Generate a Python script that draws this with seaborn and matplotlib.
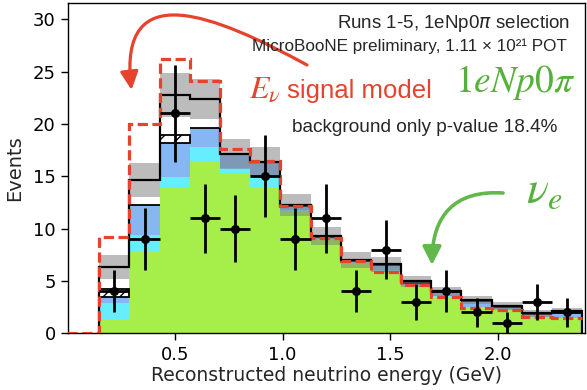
import numpy as np
import pandas as pd
import matplotlib
matplotlib.use("Agg")
import matplotlib.pyplot as plt
import seaborn as sns
from matplotlib.patches import FancyArrowPatch
from matplotlib.path import Path

# ---------------- data ----------------
bin_edges = [0.15, 0.29, 0.43, 0.57, 0.71, 0.85, 0.99, 1.13, 1.27, 1.41,
             1.55, 1.69, 1.83, 1.97, 2.11, 2.25, 2.39]
nue_signal = [1.34, 7.8, 14.0, 16.45, 15.2, 14.0, 11.6, 8.9, 6.7, 5.9,
              4.5, 3.5, 2.4, 2.2, 1.6, 1.45]
bkg_cyan = [1.53, 1.59, 0.96, 1.35, 0.55, 0.96, 0.2, 0.1, 0.1, 0.1,
            0.1, 0.1, 0.1, 0.1, 0.05, 0.05]
bkg_blue = [0.63, 2.86, 3.24, 1.8, 1.35, 1.44, 0.4, 0.2, 0.15, 0.5,
            0.25, 0.3, 0.6, 0.2, 0.2, 0.55]
bkg_hatched = [0.7, 0.0, 0.74, 0.0, 0.0, 0.0, 0.0, 0.0, 0.0, 0.0,
               0.0, 0.0, 0.0, 0.0, 0.0, 0.0]
total_pred = [6.36, 14.64, 22.76, 22.35, 17.1, 16.4, 12.25, 9.29, 7.0, 6.6,
              4.95, 4.0, 3.2, 2.6, 1.9, 2.15]
pred_unc = [1.16, 1.6, 2.1, 1.9, 1.45, 1.4, 1.05, 0.9, 0.75, 0.7,
            0.5, 0.45, 0.4, 0.35, 0.3, 0.3]
signal_model_edges = [0.0] + bin_edges
signal_model = [0.0, 9.2, 20.0, 26.2, 24.1, 17.6, 16.45, 12.15, 9.15, 6.9, 5.9,
                4.6, 3.5, 2.4, 2.2, 1.6, 1.45]
data_counts = [4, 9, 21, 11, 10, 15, 9, 11, 4, 8, 3, 4, 2, 1, 3, 2]
data_err = [2.0, 3.0, 4.6, 3.3, 3.2, 3.9, 3.0, 3.3, 2.0, 2.8,
            1.7, 2.0, 1.4, 1.0, 1.7, 1.4]

x_ticks = [0.5, 1.0, 1.5, 2.0]
y_ticks = [0, 5, 10, 15, 20, 25, 30]

# ---------------- style ----------------
sns.set_style("ticks")
plt.rcParams['font.family'] = ['DejaVu Sans']
plt.rcParams['axes.edgecolor'] = 'black'
plt.rcParams['xtick.color'] = 'black'
plt.rcParams['ytick.color'] = 'black'
plt.rcParams['hatch.linewidth'] = 1.0

RED = '#e5432d'
GREEN_TXT = '#55b13a'
GREEN_ARROW = '#62b84a'
LIME = '#a6ef4a'
CYAN = '#66eeff'
BLUE = '#86b7f2'

W, H = 587, 390
fig = plt.figure(figsize=(W / 100, H / 100), dpi=100)
ax = fig.add_axes([68 / W, (H - 333.3) / H, (585 - 68) / W, (333.3 - 3) / H])


def P(x, y):
    return (x / W, 1 - y / H)


edges = np.array(bin_edges)
centers = 0.5 * (edges[:-1] + edges[1:])
widths = np.diff(edges)

stack = np.cumsum([nue_signal, bkg_cyan, bkg_blue], axis=0)
df = pd.DataFrame({"energy": centers,
                   "nue": stack[0], "cyan": stack[1], "blue": stack[2]})
for col, color in [("blue", BLUE), ("cyan", CYAN), ("nue", LIME)]:
    sns.histplot(data=df, x="energy", weights=col, bins=list(bin_edges),
                 color=color, alpha=1, linewidth=0, element="bars", ax=ax)

# hatched component with black outline
ax.bar(centers, bkg_hatched, bottom=stack[2], width=widths, facecolor='white',
       edgecolor='black', hatch='//', linewidth=1.3, align='center', zorder=3)

# uncertainty band
tot = np.array(total_pred)
unc = np.array(pred_unc)
ax.bar(centers, 2 * unc, bottom=tot - unc, width=widths, color='#7a7a7a',
       alpha=0.5, linewidth=0, zorder=4)

# total prediction
ax.stairs(total_pred, bin_edges, color='black', lw=1.6, baseline=0, zorder=5)

# signal model
ax.stairs(signal_model, signal_model_edges, color=RED, lw=2.3,
          linestyle=(0, (3.2, 1.4)), baseline=None, zorder=6)

# data
ax.errorbar(centers, data_counts, xerr=widths / 2, yerr=data_err, fmt='o',
            color='black', ms=5.5, elinewidth=2, capsize=0, zorder=10)

ax.set_xlim(0.005, 2.403)
ax.set_ylim(0, 31.55)
ax.set_xticks(x_ticks)
ax.set_xticklabels([f"{v:.1f}" for v in x_ticks])
ax.set_yticks(y_ticks)
ax.tick_params(axis='both', direction='out', length=4.8, width=1.0,
               labelsize=13, pad=4)
for s in ax.spines.values():
    s.set_visible(True)
    s.set_linewidth(1.0)
    s.set_color('black')
ax.set_xlabel("Reconstructed neutrino energy (GeV)", fontsize=13.5, labelpad=2)
ax.set_ylabel("Events", fontsize=14, labelpad=6)

# ---------------- annotations ----------------
sans = ['Liberation Sans', 'DejaVu Sans']
fig.text(*P(570, 23), "Runs 1-5, 1eNp0$\\pi$ selection", ha='right', va='center',
         fontsize=13.5, family=sans, math_fontfamily='dejavusans')
fig.text(*P(567, 46), "MicroBooNE preliminary, 1.11 × 10²¹ POT", ha='right',
         va='center', fontsize=12.3, family=sans)
fig.text(*P(249, 98), "$E_\\nu$", ha='left', va='baseline',
         fontsize=23, color=RED, math_fontfamily='stix')
fig.text(*P(287, 98), "signal model", ha='left', va='baseline',
         fontsize=18.5, color=RED, family=sans)
fig.text(*P(575, 92), "$1eNp0\\pi$", ha='right', va='baseline', fontsize=27,
         color=GREEN_TXT, math_fontfamily='stix')
fig.text(*P(292, 128), "background only p-value 18.4%", ha='left', va='center',
         fontsize=13.7, family=sans)
fig.text(*P(526, 203), "$\\nu_e$", ha='left', va='baseline', fontsize=33,
         color=GREEN_TXT, math_fontfamily='stix')


def bezier_arrow(pts, color, lw, hl, hw):
    verts = [P(*p) for p in pts]
    path = Path(verts, [Path.MOVETO, Path.CURVE4, Path.CURVE4, Path.CURVE4])
    arr = FancyArrowPatch(path=path,
                          arrowstyle=f"-|>,head_length={hl},head_width={hw}",
                          mutation_scale=20, color=color, lw=lw,
                          transform=fig.transFigure)
    fig.add_artist(arr)


bezier_arrow([(307, 65), (215, 15), (118, -25), (131.5, 90)], RED, 2.3, 0.55, 0.27)
bezier_arrow([(503, 193), (455, 190), (432, 215), (432, 265)], GREEN_ARROW, 2.6, 0.55, 0.28)

fig.savefig("out.png", dpi=100)
